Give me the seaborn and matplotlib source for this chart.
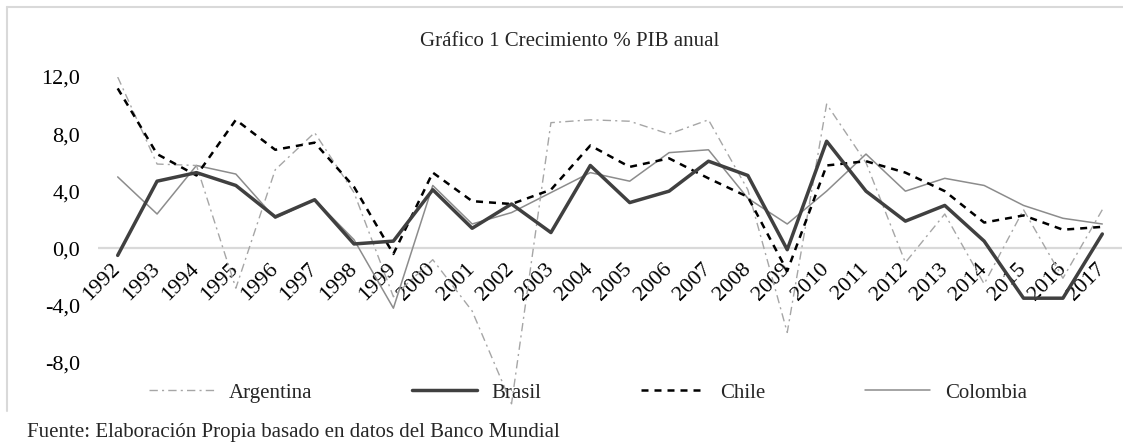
import pandas as pd
import matplotlib
matplotlib.use('Agg')
import matplotlib.pyplot as plt
import seaborn as sns
from matplotlib.lines import Line2D
from matplotlib.ticker import FuncFormatter

# Datos: crecimiento % PIB anual (Banco Mundial)
years = list(range(1992, 2018))
argentina = [12.0, 5.9, 5.8, -2.8, 5.5, 8.1, 3.9, -3.4, -0.8, -4.4, -10.9, 8.8, 9.0,
             8.9, 8.0, 9.0, 4.1, -5.9, 10.1, 6.0, -1.0, 2.4, -2.5, 2.7, -2.1, 2.7]
brasil = [-0.5, 4.7, 5.3, 4.4, 2.2, 3.4, 0.3, 0.5, 4.1, 1.4, 3.1, 1.1, 5.8,
          3.2, 4.0, 6.1, 5.1, -0.1, 7.5, 4.0, 1.9, 3.0, 0.5, -3.5, -3.5, 1.0]
chile = [11.2, 6.6, 5.1, 9.0, 6.9, 7.4, 4.3, -0.4, 5.3, 3.3, 3.1, 4.1, 7.2,
         5.7, 6.3, 4.9, 3.6, -1.6, 5.8, 6.1, 5.3, 4.0, 1.8, 2.3, 1.3, 1.5]
colombia = [5.0, 2.4, 5.8, 5.2, 2.1, 3.4, 0.6, -4.2, 4.4, 1.7, 2.5, 3.9, 5.3,
            4.7, 6.7, 6.9, 3.5, 1.7, 4.0, 6.6, 4.0, 4.9, 4.4, 3.0, 2.1, 1.7]
y_ticks = [-8, -4, 0, 4, 8, 12]

df = pd.DataFrame({'Año': years, 'Argentina': argentina, 'Brasil': brasil,
                   'Chile': chile, 'Colombia': colombia})
df = df.melt(id_vars='Año', var_name='País', value_name='Crecimiento')

sns.set_style('white')
plt.rcParams['font.family'] = ['Liberation Serif', 'DejaVu Serif']

styles = {
    'Argentina': dict(color='#a6a6a6', lw=1.0, ls=(0, (6, 3, 1.5, 3))),
    'Brasil': dict(color='#404040', lw=2.5, ls='-'),
    'Chile': dict(color='black', lw=1.8, ls=(0, (2.8, 2.4))),
    'Colombia': dict(color='#8c8c8c', lw=1.1, ls='-'),
}

fig = plt.figure(figsize=(11.23, 4.44), dpi=100)
ax = fig.add_axes([98 / 1123, 24.5 / 444, 1024 / 1123, 342.5 / 444])
ax.set_facecolor('none')

# linea del cero
ax.axhline(0, color='#d9d9d9', lw=1.6, zorder=1)

for pais in ['Colombia', 'Argentina', 'Chile', 'Brasil']:
    s = styles[pais]
    sns.lineplot(data=df[df['País'] == pais], x='Año', y='Crecimiento', ax=ax,
                 color=s['color'], lw=s['lw'], linestyle=s['ls'], zorder=3)

ax.set_xlim(1991.5, 2017.5)
ax.set_ylim(-12, 12)
ax.set_yticks(y_ticks)
ax.yaxis.set_major_formatter(FuncFormatter(lambda v, p: f'{v:.1f}'.replace('.', ',')))
ax.set_xticks(years)
ax.set_xticklabels([str(y) for y in years])
for sp in ax.spines.values():
    sp.set_visible(False)
ax.spines['bottom'].set_position(('data', 0))
ax.tick_params(axis='both', length=0, colors='black')
ax.tick_params(axis='y', pad=13, labelsize=16)
ax.tick_params(axis='x', pad=13, labelsize=16)
for lab in ax.get_xticklabels():
    lab.set_rotation(45)
    lab.set_ha('right')
    lab.set_va('center')
    lab.set_rotation_mode('anchor')
ax.set_xlabel('')
ax.set_ylabel('')

# leyenda
handles = [Line2D([0], [0], color=styles[p]['color'], lw=styles[p]['lw'],
                  linestyle=styles[p]['ls']) for p in ['Argentina', 'Brasil', 'Chile', 'Colombia']]
fig.legend(handles, ['Argentina', 'Brasil', 'Chile', 'Colombia'], loc='center',
           bbox_to_anchor=(588 / 1123, 1 - 393 / 444), ncol=4, frameon=False,
           fontsize=15, handlelength=3.1, handletextpad=0.7, columnspacing=4.8)

# marco del grafico
fig.add_artist(Line2D([7 / 1123, 1], [1 - 7 / 444, 1 - 7 / 444], color='#d9d9d9', lw=1.5))
fig.add_artist(Line2D([7 / 1123, 7 / 1123], [1 - 7 / 444, 1 - 411 / 444], color='#d9d9d9', lw=1.5))

fig.text(570 / 1123, 1 - 42 / 444, 'Gráfico 1 Crecimiento % PIB anual', ha='center',
         va='center', fontsize=15)
fig.text(27 / 1123, 1 - 432 / 444, 'Fuente: Elaboración Propia basado en datos del Banco Mundial',
         ha='left', va='center', fontsize=15)

fig.savefig('out.png', dpi=100)
